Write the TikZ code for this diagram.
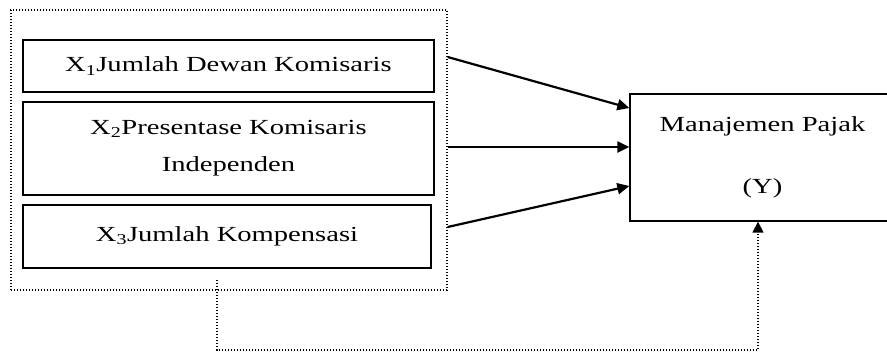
\documentclass[tikz,border=0pt]{standalone}
\usepackage{fontspec}
\setmainfont[FakeStretch=1.33]{Liberation Serif}
\usetikzlibrary{arrows.meta,calc}

\tikzset{
  varbox/.style={draw, line width=1.3pt, rectangle, inner sep=0pt,
    align=center, font=\fontsize{21.5}{37}\selectfont},
  groupbox/.style={draw, line width=1.3pt, dash pattern=on 1.3pt off 1.7pt,
    rectangle, inner sep=0pt},
  influence/.style={line width=2.2pt, -{Triangle[length=12pt,width=11pt]}},
  moderation/.style={line width=1.4pt, dash pattern=on 1.3pt off 1.7pt,
    -{Triangle[length=11pt,width=11pt]}}
}

\begin{document}
\begin{tikzpicture}[x=1pt,y=-1pt]
  \useasboundingbox (0,0) rectangle (887,354);
  \clip (0,0) rectangle (887,354);

  % independent variables, grouped in a dotted frame
  \node[groupbox, minimum width=436pt, minimum height=280pt] (group) at (229,150) {};
  \node[varbox, minimum width=411pt, minimum height=52pt] (x1) at (228.5,66)
    {X\textsubscript{1}Jumlah Dewan Komisaris};
  \node[varbox, minimum width=411pt, minimum height=93pt] (x2) at (228.5,148.5)
    {X\textsubscript{2}Presentase Komisaris\\Independen};
  \node[varbox, minimum width=408pt, minimum height=63pt] (x3) at (227,236.5)
    {X\textsubscript{3}Jumlah Kompensasi};

  % dependent variable
  \node[varbox, minimum width=265pt, minimum height=127pt, font=\fontsize{21.5}{24}\selectfont]
    (y) at (762.5,157.5) {Manajemen Pajak\\[38pt](Y)};

  % connector end points
  \coordinate (s1) at (group.east |- 0,57);
  \coordinate (s2) at (group.east |- 0,147);
  \coordinate (s3) at (group.east |- 0,227);
  \coordinate (t1) at (y.west |- 0,108);
  \coordinate (t2) at (y.west |- 0,147);
  \coordinate (t3) at (y.west |- 0,186);
  \coordinate (m0) at (217,280);
  \coordinate (m1) at (217,350);
  \coordinate (m2) at (758,350);

  \draw[influence] (s1) -- (t1);
  \draw[influence] (s2) -- (t2);
  \draw[influence] (s3) -- (t3);

  \draw[moderation] (m0) -- (m1) -- (m2) -- (m2 |- y.south);
\end{tikzpicture}
\end{document}
